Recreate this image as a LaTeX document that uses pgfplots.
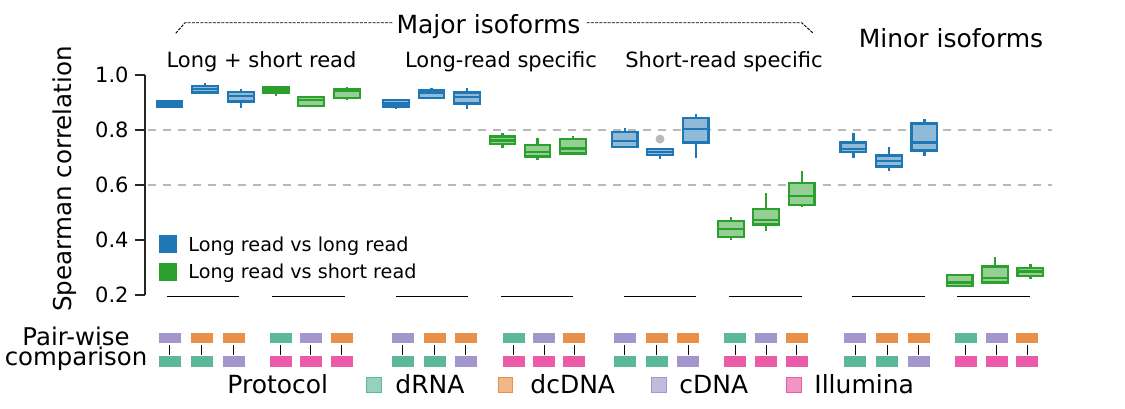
\documentclass[border=0pt]{standalone}
\usepackage{fontspec}
\setmainfont{DejaVu Sans}
\usepackage{pgfplots}
\pgfplotsset{compat=1.18}
\usepgfplotslibrary{statistics}

\definecolor{cBlue}{HTML}{1F77B4}
\definecolor{cGreen}{HTML}{2CA02C}
\definecolor{cDR}{HTML}{5CB898}
\definecolor{cDC}{HTML}{E8904A}
\definecolor{cCD}{HTML}{A396CC}
\definecolor{cIL}{HTML}{EA5CA8}

\newcommand{\fs}[1]{\fontsize{#1}{#1}\selectfont}

\pgfplotsset{
  bxb/.style={draw=cBlue, fill=cBlue!50!white, line width=1.2pt},
  bxg/.style={draw=cGreen, fill=cGreen!50!white, line width=1.2pt},
  icon/.style={only marks, mark=square*, mark size=2.4pt,
    mark options={xscale=2.2, draw=#1, fill=#1}},
  proto/.style={only marks, mark=square*, mark size=3.6pt,
    mark options={draw=#1, fill=#1!65!white, line width=0.5pt}},
  uline/.style={black, line width=0.6pt},
}

% position, lower whisker, q1, median, q3, upper whisker, style
\newcommand{\bx}[7]{\addplot[#7, boxplot prepared={draw position=#1,
  lower whisker=#2, lower quartile=#3, median=#4,
  upper quartile=#5, upper whisker=#6}] coordinates {};}

\begin{document}
\begin{tikzpicture}
\begin{axis}[
  x=0.5pt, y=137.5pt,
  xmin=145, xmax=1125, ymin=0.2, ymax=1.0,
  axis x line=none, axis y line*=left,
  clip=false,
  ytick={0.2,0.4,0.6,0.8,1.0},
  yticklabels={0.2,0.4,0.6,0.8,1.0},
  tick align=outside, major tick length=5pt,
  every tick/.style={black!85, line width=0.6pt},
  axis line style={black!85, line width=0.6pt},
  yticklabel style={font=\fs{10.5}, inner sep=0pt, xshift=-3pt},
  /pgf/number format/assume math mode=true,
  boxplot/draw direction=y,
  boxplot/box extend=25.5,
  boxplot/whisker extend=0,
]
\coordinate (bl) at (axis cs:0,-0.2145);
\coordinate (tr) at (axis cs:1125,1.2727);

% reference lines
\addplot[gray!55, line width=0.7pt, dash pattern=on 4pt off 3.5pt] coordinates {(148,0.8) (1052,0.8)};
\addplot[gray!55, line width=0.7pt, dash pattern=on 4pt off 3.5pt] coordinates {(148,0.6) (1052,0.6)};

% Long + short read
\bx{169.5}{0.882}{0.885}{0.896}{0.906}{0.909}{bxb}
\bx{205}{0.935}{0.937}{0.949}{0.960}{0.970}{bxb}
\bx{241}{0.881}{0.903}{0.924}{0.938}{0.948}{bxb}
\bx{276}{0.925}{0.936}{0.946}{0.954}{0.956}{bxg}
\bx{311}{0.883}{0.888}{0.909}{0.921}{0.925}{bxg}
\bx{347}{0.908}{0.917}{0.943}{0.948}{0.955}{bxg}
% Long-read specific
\bx{396}{0.875}{0.885}{0.897}{0.909}{0.911}{bxb}
\bx{431.5}{0.914}{0.916}{0.936}{0.945}{0.952}{bxb}
\bx{467}{0.875}{0.897}{0.919}{0.937}{0.952}{bxb}
\bx{502.5}{0.736}{0.748}{0.762}{0.776}{0.788}{bxg}
\bx{537.5}{0.691}{0.703}{0.721}{0.745}{0.770}{bxg}
\bx{573}{0.712}{0.714}{0.733}{0.767}{0.778}{bxg}
% Short-read specific
\bx{624.7}{0.733}{0.739}{0.760}{0.792}{0.806}{bxb}
\addplot[bxb, mark=*, mark size=1.6pt, mark options={draw=gray!55, fill=gray!55},
  boxplot prepared={draw position=660, lower whisker=0.695, lower quartile=0.708,
  median=0.720, upper quartile=0.730, upper whisker=0.731}] coordinates {(0,0.767)};
\bx{695.7}{0.697}{0.755}{0.804}{0.843}{0.858}{bxb}
\bx{731}{0.400}{0.412}{0.440}{0.470}{0.485}{bxg}
\bx{766}{0.433}{0.457}{0.473}{0.513}{0.570}{bxg}
\bx{801.7}{0.521}{0.528}{0.560}{0.608}{0.651}{bxg}
% Minor isoforms
\bx{853.3}{0.697}{0.719}{0.731}{0.754}{0.790}{bxb}
\bx{889}{0.651}{0.667}{0.687}{0.707}{0.739}{bxb}
\bx{924.3}{0.707}{0.725}{0.754}{0.824}{0.841}{bxb}
\bx{959.7}{0.231}{0.233}{0.245}{0.273}{0.275}{bxg}
\bx{995}{0.243}{0.246}{0.261}{0.303}{0.337}{bxg}
\bx{1030.3}{0.258}{0.269}{0.285}{0.299}{0.313}{bxg}

% legend
\addplot[only marks, mark=square*, mark size=4.25pt, mark options={draw=cBlue, fill=cBlue}] coordinates {(168.3,0.3844)};
\addplot[only marks, mark=square*, mark size=4.25pt, mark options={draw=cGreen, fill=cGreen}] coordinates {(168.3,0.2847)};
\node[anchor=base west, inner sep=0pt, font=\fs{9.6}] at (axis cs:188,0.3575) {Long read vs long read};
\node[anchor=base west, inner sep=0pt, font=\fs{9.6}] at (axis cs:188,0.2607) {Long read vs short read};

% titles
\addplot[black, line width=0.45pt, dash pattern=on 1.5pt off 0.6pt] coordinates {(175.7,1.1516) (185,1.190) (393,1.190)};
\addplot[black, line width=0.45pt, dash pattern=on 1.5pt off 0.6pt] coordinates {(586.7,1.190) (801.7,1.190) (813.3,1.1516)};
\node[anchor=base, inner sep=0pt, font=\fs{12.5}] at (axis cs:488.5,1.1516) {Major isoforms};
\node[anchor=base, inner sep=0pt, font=\fs{12.5}] at (axis cs:951,1.0982) {Minor isoforms};
\node[anchor=base, inner sep=0pt, font=\fs{10.5}] at (axis cs:261.5,1.0255) {Long + short read};
\node[anchor=base, inner sep=0pt, font=\fs{10.5}] at (axis cs:501,1.0255) {Long-read specific};
\node[anchor=base, inner sep=0pt, font=\fs{10.5}] at (axis cs:724,1.0255) {Short-read specific};
\node[rotate=90, anchor=base, inner sep=0pt, font=\fs{12.3}] at (axis cs:71.7,0.6218) {Spearman correlation};

% group underlines
\addplot[uline] coordinates {(167,0.196) (239,0.196)};
\addplot[uline] coordinates {(272,0.196) (345,0.196)};
\addplot[uline] coordinates {(396,0.196) (468,0.196)};
\addplot[uline] coordinates {(501,0.196) (573,0.196)};
\addplot[uline] coordinates {(624,0.196) (696,0.196)};
\addplot[uline] coordinates {(729,0.196) (802,0.196)};
\addplot[uline] coordinates {(852,0.196) (925,0.196)};
\addplot[uline] coordinates {(957,0.196) (1030,0.196)};

% pair-wise comparison icons
\addplot[only marks, mark=|, mark size=2.5pt, mark options={black, line width=0.5pt}] coordinates {
  (170,0) (202,0) (234,0) (280.5,0) (311,0) (342,0)
  (403,0) (434.5,0) (465.5,0) (513.5,0) (544,0) (574,0)
  (624.5,0) (656.5,0) (688,0) (735,0) (766,0) (796.5,0)
  (855,0) (887,0) (918.5,0) (965.5,0) (996.5,0) (1027,0)};
% top row
\addplot[icon=cCD] coordinates {(170,0.0444) (403,0.0444) (624.5,0.0444) (855,0.0444)
  (311,0.0444) (544,0.0444) (766,0.0444) (996.5,0.0444)};
\addplot[icon=cDC] coordinates {(202,0.0444) (234,0.0444) (434.5,0.0444) (465.5,0.0444)
  (656.5,0.0444) (688,0.0444) (887,0.0444) (918.5,0.0444)
  (342,0.0444) (574,0.0444) (796.5,0.0444) (1027,0.0444)};
\addplot[icon=cDR] coordinates {(280.5,0.0444) (513.5,0.0444) (735,0.0444) (965.5,0.0444)};
% bottom row
\addplot[icon=cDR] coordinates {(170,-0.0425) (202,-0.0425) (403,-0.0425) (434.5,-0.0425)
  (624.5,-0.0425) (656.5,-0.0425) (855,-0.0425) (887,-0.0425)};
\addplot[icon=cCD] coordinates {(234,-0.0425) (465.5,-0.0425) (688,-0.0425) (918.5,-0.0425)};
\addplot[icon=cIL] coordinates {(280.5,-0.0425) (311,-0.0425) (342,-0.0425)
  (513.5,-0.0425) (544,-0.0425) (574,-0.0425)
  (735,-0.0425) (766,-0.0425) (796.5,-0.0425)
  (965.5,-0.0425) (996.5,-0.0425) (1027,-0.0425)};
\node[anchor=north, inner sep=0pt, align=center,
  font={\fontsize{12.2}{10}\selectfont\lineskiplimit=-20pt}]
  at (axis cs:76,0.0855) {Pair-wise\\comparison};

% protocol legend
\node[anchor=base west, inner sep=0pt, font=\fs{12.5}] at (axis cs:227,-0.1575) {Protocol};
\addplot[proto=cDR] coordinates {(374,-0.1273)};
\addplot[proto=cDC] coordinates {(505.5,-0.1273)};
\addplot[proto=cCD] coordinates {(659,-0.1273)};
\addplot[proto=cIL] coordinates {(794,-0.1273)};
\node[anchor=base west, inner sep=0pt, font=\fs{12.5}] at (axis cs:395,-0.1575) {dRNA};
\node[anchor=base west, inner sep=0pt, font=\fs{12.5}] at (axis cs:530,-0.1575) {dcDNA};
\node[anchor=base west, inner sep=0pt, font=\fs{12.5}] at (axis cs:679,-0.1575) {cDNA};
\node[anchor=base west, inner sep=0pt, font=\fs{12.5}] at (axis cs:814,-0.1575) {Illumina};
\end{axis}
\pgfresetboundingbox
\useasboundingbox (bl) rectangle (tr);
\end{tikzpicture}
\end{document}
